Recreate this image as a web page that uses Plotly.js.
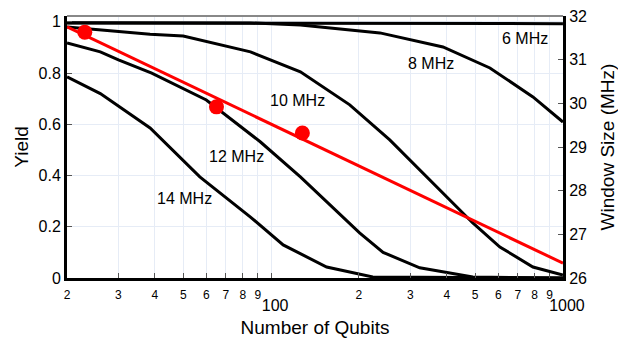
<!DOCTYPE html>
<html>
<head>
<meta charset="utf-8">
<script src="https://cdn.plot.ly/plotly-3.0.1.min.js"></script>
<style>html,body{margin:0;padding:0;background:#fff;}#chart{width:618px;height:340px;}</style>
</head>
<body>
<div id="chart"></div>
<script>
// Yield curves (Number of Qubits vs Yield) for each window size
const n6 = [20, 1000];
const y6 = [0.996, 0.993];
const n8 = [20, 85, 126, 186, 236, 388, 562, 789, 1000];
const y8 = [0.997, 0.996, 0.988, 0.969, 0.957, 0.902, 0.82, 0.707, 0.609];
const n10 = [20, 38.5, 50, 85, 126, 186, 255, 410, 491, 608, 789, 1000];
const y10 = [0.98, 0.952, 0.945, 0.883, 0.805, 0.676, 0.539, 0.305, 0.215, 0.121, 0.043, 0.012];
const n12 = [20, 26, 30, 39, 60, 92, 126, 201, 242, 323, 491, 1000];
const y12 = [0.918, 0.883, 0.852, 0.80, 0.695, 0.531, 0.395, 0.176, 0.10, 0.04, 0.004, 0];
const n14 = [20, 26, 38.5, 57, 85, 110, 155, 223, 1000];
const y14 = [0.785, 0.72, 0.586, 0.395, 0.238, 0.129, 0.043, 0.004, 0];
// Window size fit line and points (right axis)
const fitN = [20, 1000];
const fitW = [31.75, 26.34];
const markN = [23, 65, 128];
const markW = [31.63, 29.92, 29.32];
// Curve labels
const curveLabels = ['6 MHz', '8 MHz', '10 MHz', '12 MHz', '14 MHz'];

const FONT = 'Liberation Sans, Arial, Helvetica, sans-serif';
const black = {color: '#000', width: 3};
const curves = [[n6, y6], [n8, y8], [n10, y10], [n12, y12], [n14, y14]];
const traces = curves.map((c, i) => ({
  x: c[0], y: c[1], type: 'scatter', mode: 'lines', line: black,
  name: curveLabels[i], hoverinfo: 'skip'
}));
traces.push({x: fitN, y: fitW, yaxis: 'y2', type: 'scatter', mode: 'lines',
  line: {color: '#ff0000', width: 3}, name: 'fit'});
traces.push({x: markN, y: markW, yaxis: 'y2', type: 'scatter', mode: 'markers',
  marker: {color: '#ff0000', size: 15}, name: 'window'});

const labelPos = [[0.923, 0.916], [0.734, 0.817], [0.464, 0.679], [0.341, 0.462], [0.236, 0.305]];
const annotations = curveLabels.map((t, i) => ({
  text: t, xref: 'paper', yref: 'paper', x: labelPos[i][0], y: labelPos[i][1],
  showarrow: false, xanchor: 'center', yanchor: 'middle',
  font: {family: FONT, size: 16, color: '#000'}
}));

const axisCommon = {
  ticks: 'inside', ticklen: 5, tickcolor: '#555', tickwidth: 1,
  showline: true, linecolor: '#000', linewidth: 3, zeroline: false,
  tickfont: {family: FONT, size: 16, color: '#000'}
};

const layout = {
  width: 618, height: 340,
  margin: {l: 67, r: 55, t: 16, b: 62},
  paper_bgcolor: '#fff', plot_bgcolor: '#fff',
  showlegend: false,
  font: {family: FONT, color: '#000'},
  xaxis: Object.assign({}, axisCommon, {
    type: 'log', range: [Math.log10(19.99), 3.0001], dtick: 'D1',
    ticklabelstandoff: 3,
    showgrid: true, gridcolor: '#e6ecf6', gridwidth: 1,
    title: {text: 'Number of Qubits', font: {family: FONT, size: 19, color: '#000'}, standoff: 8}
  }),
  yaxis: Object.assign({}, axisCommon, {
    range: [0, 1.023], dtick: 0.2, showgrid: true, gridcolor: '#e6ecf6', gridwidth: 1,
    title: {text: 'Yield', font: {family: FONT, size: 19, color: '#000'}, standoff: 5}
  }),
  yaxis2: Object.assign({}, axisCommon, {
    overlaying: 'y', side: 'right', range: [26, 32], dtick: 1, showgrid: false,
    title: {text: 'Window Size (MHz)', font: {family: FONT, size: 19, color: '#000'}, standoff: 15}
  }),
  shapes: [{type: 'line', xref: 'paper', yref: 'paper', x0: 0, x1: 1, y0: 1, y1: 1,
    line: {color: '#888', width: 2}}],
  annotations: annotations
};

Plotly.newPlot('chart', traces, layout, {staticPlot: true, displayModeBar: false});
</script>
</body>
</html>
